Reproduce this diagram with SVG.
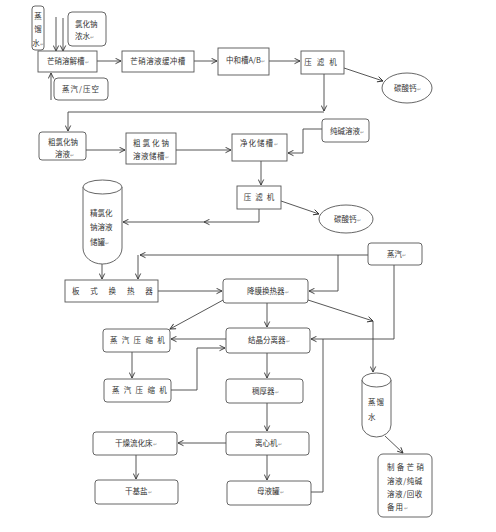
<svg xmlns="http://www.w3.org/2000/svg" width="496" height="532" viewBox="0 0 496 532">
<style>
.b{fill:#fff;stroke:#555;stroke-width:0.9}
.c{fill:none;stroke:#444;stroke-width:0.9}
.t{font-family:"Noto Sans CJK SC","Noto Sans",sans-serif;font-size:7.5px;fill:#333}
.m{text-anchor:middle}
.r{font-size:5px;fill:#999}
</style>
<defs>
<marker id="a" markerWidth="7" markerHeight="7" refX="6" refY="3.5" orient="auto" markerUnits="userSpaceOnUse">
<path d="M0.5,0.8 L6,3.5 L0.5,6.2" fill="none" stroke="#333" stroke-width="0.9"/>
</marker>
</defs>
<rect width="496" height="532" fill="#fff"/>

<g id="connectors" class="c" marker-end="url(#a)">
<line x1="56" y1="17" x2="56" y2="51"/>
<line x1="63" y1="18" x2="63" y2="51"/>
<line x1="51" y1="100" x2="51" y2="73"/>
<line x1="97" y1="61" x2="121" y2="61"/>
<line x1="194" y1="61" x2="217" y2="61"/>
<line x1="269" y1="61" x2="300" y2="61"/>
<line x1="344" y1="68" x2="383" y2="81"/>
<line x1="324" y1="74" x2="324" y2="111"/>
<polyline points="324,112 68,112 68,131"/>
<line x1="86" y1="150" x2="125" y2="150"/>
<line x1="176" y1="150" x2="231" y2="150"/>
<polyline points="322,129 303,129 303,153 288,153"/>
<line x1="261" y1="161" x2="261" y2="185"/>
<line x1="281" y1="201" x2="319" y2="214"/>
<polyline points="259,209 259,222 204,222"/>
<line x1="204" y1="222" x2="123" y2="222"/>
<line x1="368" y1="255" x2="140" y2="255"/>
<line x1="138" y1="255" x2="138" y2="279"/>
<line x1="102" y1="264" x2="102" y2="279"/>
<polyline points="338,255 338,291 309,291"/>
<line x1="158" y1="291" x2="222" y2="291"/>
<line x1="225" y1="299" x2="170" y2="329"/>
<line x1="267" y1="303" x2="267" y2="327"/>
<line x1="308" y1="300" x2="373" y2="321"/>
<line x1="373" y1="321" x2="373" y2="372"/>
<polyline points="394,265 394,339 311,339"/>
<line x1="226" y1="339" x2="171" y2="339"/>
<line x1="132" y1="352" x2="132" y2="378"/>
<polyline points="171,390 197,390 197,348 225,348"/>
<line x1="267" y1="353" x2="267" y2="378"/>
<line x1="267" y1="403" x2="267" y2="431"/>
<line x1="226" y1="443" x2="178" y2="443"/>
<line x1="136" y1="455" x2="136" y2="479"/>
<line x1="267" y1="455" x2="267" y2="480"/>
<polyline points="311,492 323,492 323,339" marker-end="none"/>
<line x1="385" y1="436" x2="403" y2="453"/>
</g>

<g id="n_zhengliushui1"><rect class="b" x="32" y="6" width="12" height="44" rx="3"/>
<text class="t m" x="38" y="19">蒸</text><text class="t m" x="38" y="32">馏</text><text class="t m" x="38" y="46">水<tspan class="r">↵</tspan></text></g>

<g id="n_lvhuananongshui"><rect class="b" x="68" y="12" width="38" height="34" rx="4"/>
<text class="t" x="75" y="27">氯化钠</text><text class="t" x="75" y="39">浓水<tspan class="r">↵</tspan></text></g>

<g id="n_mangxiaorongjiecao"><rect class="b" x="38" y="51" width="59" height="21"/>
<text class="t" x="47" y="64">芒硝溶解槽<tspan class="r">↵</tspan></text></g>

<g id="n_zhengqiyakong"><rect class="b" x="54" y="78" width="54" height="22" rx="4"/>
<text class="t m" x="81" y="92" letter-spacing="1">蒸汽/压空</text></g>

<g id="n_huanchongcao"><rect class="b" x="122" y="51" width="72" height="21"/>
<text class="t m" x="158" y="64" letter-spacing="0.4">芒硝溶液缓冲槽</text></g>

<g id="n_zhonghecao"><rect class="b" x="218" y="48" width="51" height="27"/>
<text class="t" x="226" y="63">中和槽A/B<tspan class="r">↵</tspan></text></g>

<g id="n_yalvji1"><rect class="b" x="301" y="51" width="43" height="23"/>
<text class="t m" x="323" y="65" letter-spacing="5">压滤机</text></g>

<g id="n_tansuangai1"><ellipse class="b" cx="407" cy="88" rx="25" ry="15"/>
<text class="t" x="394" y="91">碳酸钙<tspan class="r">↵</tspan></text></g>

<g id="n_culvhuanarongye"><rect class="b" x="39" y="132" width="47" height="28" rx="3"/>
<text class="t" x="48" y="145">粗氯化钠</text><text class="t" x="55" y="157">溶液<tspan class="r">↵</tspan></text></g>

<g id="n_cuchucao"><rect class="b" x="126" y="133" width="50" height="31"/>
<text class="t" x="133" y="146" letter-spacing="2">粗氯化钠</text><text class="t" x="133" y="159" letter-spacing="0.5">溶液储槽<tspan class="r">↵</tspan></text></g>

<g id="n_jinghuachucao"><rect class="b" x="232" y="134" width="55" height="27"/>
<text class="t" x="240" y="146" letter-spacing="1">净化储槽<tspan class="r">↵</tspan></text></g>

<g id="n_chunjianrongye"><rect class="b" x="322" y="119" width="47" height="23" rx="3"/>
<text class="t" x="330" y="134">纯碱溶液<tspan class="r">↵</tspan></text></g>

<g id="n_yalvji2"><rect class="b" x="237" y="186" width="44" height="23"/>
<text class="t m" x="261" y="200" letter-spacing="4">压滤机</text></g>

<g id="n_tansuangai2"><ellipse class="b" cx="346" cy="219" rx="27" ry="14"/>
<text class="t" x="334" y="222">碳酸钙<tspan class="r">↵</tspan></text></g>

<g id="n_jinglvhuanachuguan">
<path class="b" d="M83,187 V248 A19.5,16 0 0 0 122,248 V187"/>
<ellipse class="b" cx="102.5" cy="187" rx="19.5" ry="7"/>
<text class="t" x="90" y="216">精氯化</text><text class="t" x="90" y="230">钠溶液</text><text class="t" x="90" y="245">储罐<tspan class="r">↵</tspan></text></g>

<g id="n_zhengqi"><rect class="b" x="368" y="243" width="54" height="22" rx="3"/>
<text class="t" x="387" y="257">蒸汽<tspan class="r">↵</tspan></text></g>

<g id="n_banshihuanreqi"><rect class="b" x="65" y="280" width="93" height="22"/>
<text class="t" x="72" y="294" letter-spacing="10.8">板式换热器</text></g>

<g id="n_jiangmohuanreqi"><rect class="b" x="223" y="279" width="85" height="24" rx="3"/>
<text class="t" x="247" y="294">降膜换热器<tspan class="r">↵</tspan></text></g>

<g id="n_yasuoji1"><rect class="b" x="103" y="329" width="67" height="23" rx="3"/>
<text class="t" x="110" y="343" letter-spacing="4.3">蒸汽压缩机</text></g>

<g id="n_jiejingfenliqi"><rect class="b" x="226" y="328" width="84" height="25" rx="3"/>
<text class="t" x="248" y="343">结晶分离器<tspan class="r">↵</tspan></text></g>

<g id="n_yasuoji2"><rect class="b" x="104" y="379" width="67" height="23" rx="3"/>
<text class="t" x="112" y="393" letter-spacing="4.3">蒸汽压缩机</text></g>

<g id="n_chouhouqi"><rect class="b" x="226" y="379" width="77" height="24" rx="3"/>
<text class="t" x="252" y="394">稠厚器<tspan class="r">↵</tspan></text></g>

<g id="n_zhengliushui2">
<path class="b" d="M362,380 V425 A14.5,12 0 0 0 391,425 V380"/>
<ellipse class="b" cx="376.5" cy="380" rx="14.5" ry="7"/>
<text class="t" x="368" y="405" letter-spacing="1">蒸馏</text><text class="t" x="368" y="420">水</text></g>

<g id="n_lixinji"><rect class="b" x="226" y="432" width="83" height="23" rx="3"/>
<text class="t" x="255" y="446">离心机<tspan class="r">↵</tspan></text></g>

<g id="n_ganzaoliuhuachuang"><rect class="b" x="93" y="432" width="84" height="23" rx="3"/>
<text class="t" x="115" y="446">干燥流化床<tspan class="r">↵</tspan></text></g>

<g id="n_ganjiyan"><rect class="b" x="95" y="480" width="83" height="24" rx="3"/>
<text class="t" x="125" y="494">干基盐<tspan class="r">↵</tspan></text></g>

<g id="n_muyeguan"><rect class="b" x="227" y="481" width="84" height="24" rx="3"/>
<text class="t" x="257" y="494">母液罐<tspan class="r">↵</tspan></text></g>

<g id="n_zhibei"><rect class="b" x="378" y="454" width="54" height="63" rx="5"/>
<text class="t" x="387" y="470" letter-spacing="2.3">制备芒硝</text>
<text class="t" x="387" y="484" letter-spacing="0.6">溶液/纯碱</text>
<text class="t" x="387" y="497" letter-spacing="0.6">溶液/回收</text>
<text class="t" x="387" y="510" letter-spacing="1">备用<tspan class="r">↵</tspan></text></g>
</svg>
